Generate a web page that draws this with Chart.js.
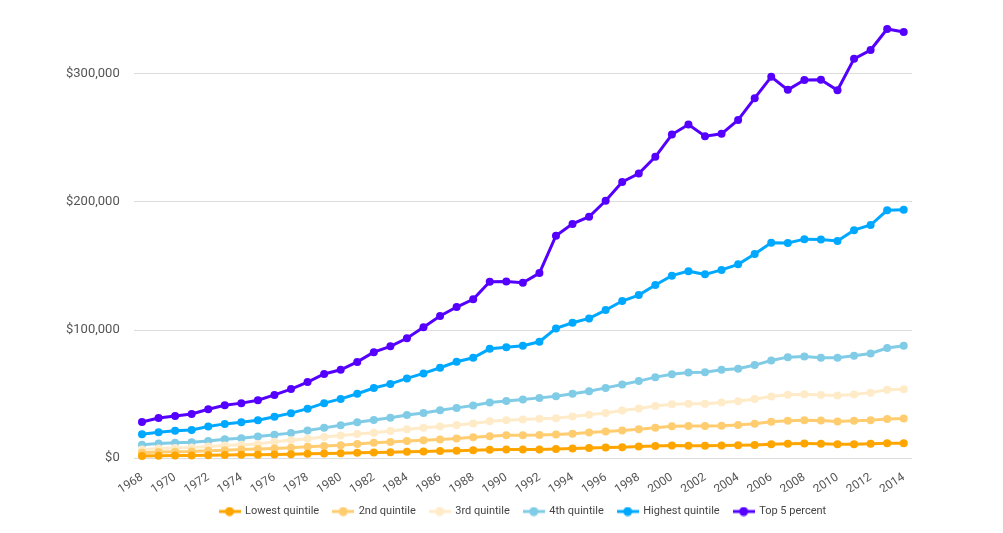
<!DOCTYPE html>
<html>
<head>
<meta charset="utf-8">
<script src="https://cdn.jsdelivr.net/npm/chart.js@4.4.1/dist/chart.umd.min.js"></script>
<style>
  html, body { margin: 0; padding: 0; background: #ffffff; }
  #wrap { width: 1003px; height: 533px; position: relative; }
</style>
</head>
<body>
<div id="wrap"><canvas id="c"></canvas></div>
<script>
// ---- data (values in US dollars) ----
const years = [1968,1969,1970,1971,1972,1973,1974,1975,1976,1977,1978,1979,1980,1981,1982,1983,1984,1985,1986,1987,1988,1989,1990,1991,1992,1993,1994,1995,1996,1997,1998,1999,2000,2001,2002,2003,2004,2005,2006,2007,2008,2009,2010,2011,2012,2013,2014];

const lowestQuintile = [1800,2000,2100,2200,2300,2500,2700,2800,3000,3100,3400,3700,3900,4200,4500,4700,5000,5300,5600,5900,6200,6600,6800,6800,6900,7200,7500,8000,8300,8600,9100,9600,9900,9800,9800,9900,10100,10400,10900,11300,11400,11300,10900,11000,11300,11600,11700];

const secondQuintile = [4300,4800,5100,5300,5800,6300,6800,7200,7600,8200,8900,9600,10200,11100,12000,12600,13400,14100,14700,15400,16300,17200,18000,18000,18100,18500,19200,20000,20800,21600,22600,23800,24900,25200,25200,25400,26000,27000,28400,29200,29600,29400,28600,29200,29700,30600,31000];

const thirdQuintile = [6800,7500,7900,8300,9100,9900,10600,11200,12900,14000,15200,16500,17700,18900,19900,21200,22700,23700,24800,26000,27100,28900,29600,30200,30800,31300,32500,34000,35300,37200,38900,40700,42200,42600,42600,43500,44500,46300,48200,49600,49900,49300,49000,49800,51200,53400,53900];

const fourthQuintile = [10600,11500,12000,12500,13500,14800,15600,16900,18300,19600,21600,23700,25800,28000,29800,31600,33800,35300,37400,39300,41200,43500,44600,45800,47100,48400,50300,52300,54900,57500,60200,63300,65600,66900,67200,69000,69800,72700,76300,78900,79400,78500,78400,80000,81800,86000,87800];

const highestQuintile = [18700,20300,21400,22100,24700,26800,28100,29700,32400,35200,38700,43000,46300,50300,54800,58000,62300,66200,70600,75300,78400,85400,86700,87800,90900,101300,105700,109100,115600,122700,127300,135200,142500,146000,143500,147000,151300,159400,168200,168000,171000,170800,169500,178000,182000,193500,194000];

const top5Percent = [28300,31400,32900,34500,38200,41400,43000,45300,49400,54000,59400,65800,69000,75200,82800,87300,93600,102200,111000,118000,124000,137800,138000,137000,144500,173700,182900,188500,200900,215600,222200,235200,252600,260400,251300,253200,264000,281000,297700,287500,295200,295400,287200,311700,318600,335000,332700];

const seriesNames = ['Lowest quintile','2nd quintile','3rd quintile','4th quintile','Highest quintile','Top 5 percent'];
const yTickValues = [0, 100000, 200000, 300000];

// ---- styling ----
const colors = ['#FFA500','#FFCD70','#FFEBC8','#80CCE6','#00A9FF','#5500FF'];
const seriesData = [lowestQuintile, secondQuintile, thirdQuintile, fourthQuintile, highestQuintile, top5Percent];
const FONT = 'Roboto, "Liberation Sans", Arial, sans-serif';

function legendSymbol(color) {
  const cv = document.createElement('canvas');
  cv.width = 22; cv.height = 10;
  const g = cv.getContext('2d');
  g.strokeStyle = color; g.lineWidth = 3;
  g.beginPath(); g.moveTo(0, 5); g.lineTo(22, 5); g.stroke();
  g.fillStyle = color;
  g.beginPath(); g.arc(11, 5, 4.5, 0, Math.PI * 2); g.fill();
  return cv;
}
const symbols = colors.map(legendSymbol);

const datasets = seriesNames.map((name, i) => ({
  label: name,
  data: seriesData[i],
  borderColor: colors[i],
  backgroundColor: colors[i],
  pointBackgroundColor: colors[i],
  pointBorderColor: colors[i],
  borderWidth: 3,
  pointRadius: 4,
  pointBorderWidth: 0,
  pointHoverRadius: 5,
  tension: 0,
  fill: false,
  clip: false
}));

new Chart(document.getElementById('c'), {
  type: 'line',
  data: { labels: years, datasets: datasets },
  options: {
    responsive: true,
    maintainAspectRatio: false,
    animation: false,
    layout: { padding: { left: 52, right: 91, top: 29, bottom: 6 } },
    plugins: {
      tooltip: { enabled: false },
      legend: {
        position: 'bottom',
        fullSize: false,
        labels: {
          usePointStyle: true,
          pointStyleWidth: 20,
          padding: 14,
          color: '#444',
          font: { family: FONT, size: 11 },
          generateLabels: (chart) => {
            const items = Chart.defaults.plugins.legend.labels.generateLabels(chart);
            items.forEach((it, i) => { it.pointStyle = symbols[i]; });
            return items;
          }
        }
      }
    },
    scales: {
      x: {
        offset: true,
        grid: { display: false, offset: false },
        border: { display: false },
        afterFit: (scale) => { scale.height -= 9; },
        ticks: {
          autoSkip: false,
          minRotation: 33,
          maxRotation: 33,
          color: '#555',
          font: { family: FONT, size: 12 },
          padding: 4,
          callback: function(value, index) { return index % 2 === 0 ? years[index] : null; }
        }
      },
      y: {
        bounds: 'data',
        beginAtZero: true,
        border: { display: false },
        grid: { color: '#dddddd', lineWidth: 1, drawTicks: false },
        afterBuildTicks: (axis) => { axis.ticks = yTickValues.map(v => ({ value: v })); },
        ticks: {
          color: '#555',
          padding: 14,
          font: { family: FONT, size: 13 },
          callback: (v) => '$' + Number(v).toLocaleString('en-US')
        }
      }
    }
  }
});
</script>
</body>
</html>
